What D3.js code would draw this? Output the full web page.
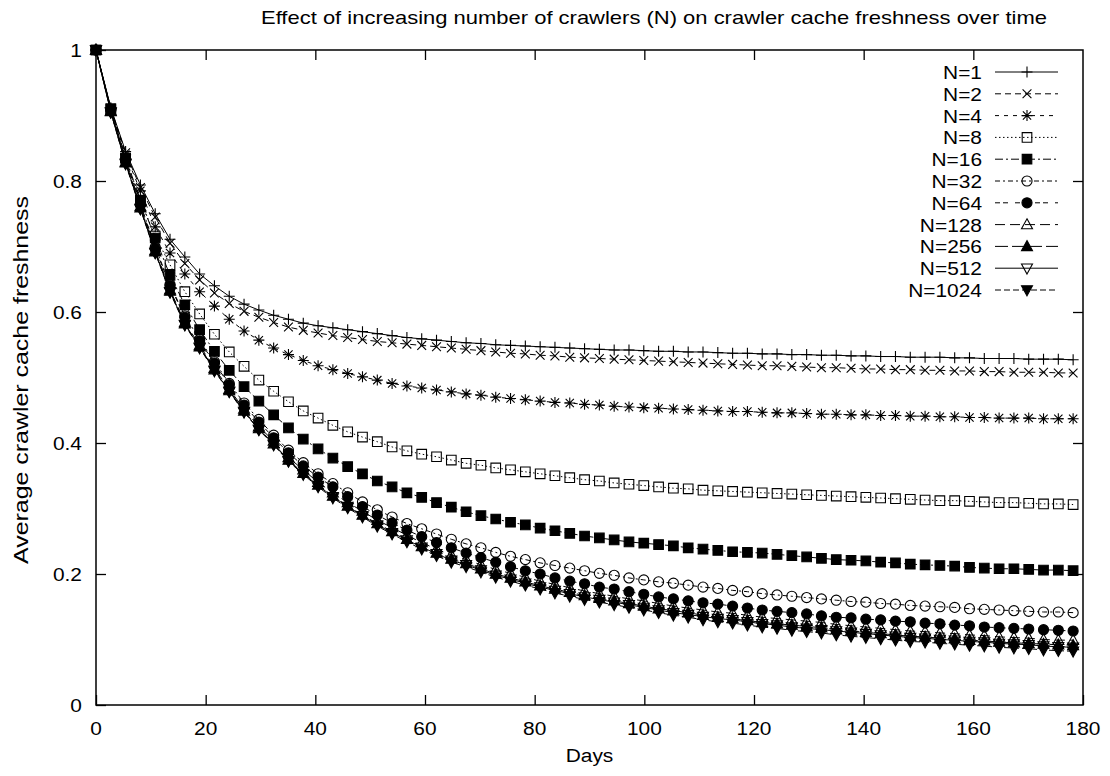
<!DOCTYPE html>
<html>
<head>
<meta charset="utf-8">
<script src="https://cdn.jsdelivr.net/npm/d3@7"></script>
<style>
  body { margin: 0; background: #fff; }
  text { font-family: "Liberation Sans", Arial, Helvetica, sans-serif; fill: #000; }
</style>
</head>
<body>
<div id="chart"></div>
<script>
// sample days (one point every 2.7 days)
const days = [
  0, 2.7, 5.4, 8.1, 10.8, 13.5, 16.2, 18.9, 21.6, 24.3,
  27, 29.7, 32.4, 35.1, 37.8, 40.5, 43.2, 45.9, 48.6, 51.3,
  54, 56.7, 59.4, 62.1, 64.8, 67.5, 70.2, 72.9, 75.6, 78.3,
  81, 83.7, 86.4, 89.1, 91.8, 94.5, 97.2, 99.9, 102.6, 105.3,
  108, 110.7, 113.4, 116.1, 118.8, 121.5, 124.2, 126.9, 129.6, 132.3,
  135, 137.7, 140.4, 143.1, 145.8, 148.5, 151.2, 153.9, 156.6, 159.3,
  162, 164.7, 167.4, 170.1, 172.8, 175.5, 178.2,
];

const seriesNames = ['N=1', 'N=2', 'N=4', 'N=8', 'N=16', 'N=32', 'N=64', 'N=128', 'N=256', 'N=512', 'N=1024'];

const n1 = [
  1.000, 0.912, 0.845, 0.794, 0.750, 0.711, 0.684, 0.658, 0.640, 0.624,
  0.612, 0.603, 0.595, 0.589, 0.583, 0.579, 0.576, 0.573, 0.570, 0.567,
  0.564, 0.561, 0.559, 0.557, 0.555, 0.553, 0.552, 0.550, 0.549, 0.548,
  0.547, 0.546, 0.545, 0.544, 0.543, 0.542, 0.542, 0.541, 0.540, 0.540,
  0.539, 0.539, 0.538, 0.537, 0.537, 0.536, 0.536, 0.535, 0.535, 0.534,
  0.534, 0.533, 0.533, 0.532, 0.532, 0.531, 0.531, 0.531, 0.530, 0.530,
  0.529, 0.529, 0.529, 0.528, 0.528, 0.528, 0.527,
];
const n2 = [
  1.000, 0.911, 0.843, 0.790, 0.745, 0.705, 0.674, 0.649, 0.629, 0.613,
  0.601, 0.592, 0.584, 0.577, 0.572, 0.568, 0.564, 0.561, 0.558, 0.555,
  0.553, 0.551, 0.549, 0.547, 0.545, 0.543, 0.541, 0.539, 0.537, 0.536,
  0.534, 0.533, 0.531, 0.530, 0.529, 0.528, 0.527, 0.526, 0.525, 0.524,
  0.523, 0.522, 0.521, 0.520, 0.519, 0.518, 0.518, 0.517, 0.516, 0.515,
  0.515, 0.514, 0.513, 0.513, 0.512, 0.512, 0.511, 0.511, 0.510, 0.510,
  0.509, 0.509, 0.508, 0.508, 0.508, 0.507, 0.507,
];
const n4 = [
  1.000, 0.910, 0.840, 0.785, 0.730, 0.690, 0.658, 0.631, 0.609, 0.589,
  0.571, 0.557, 0.545, 0.535, 0.526, 0.518, 0.512, 0.506, 0.501, 0.496,
  0.491, 0.487, 0.484, 0.481, 0.478, 0.475, 0.473, 0.470, 0.468, 0.466,
  0.464, 0.462, 0.461, 0.459, 0.458, 0.456, 0.455, 0.454, 0.453, 0.452,
  0.451, 0.450, 0.449, 0.448, 0.448, 0.447, 0.446, 0.446, 0.445, 0.444,
  0.444, 0.443, 0.443, 0.442, 0.442, 0.441, 0.441, 0.440, 0.440, 0.439,
  0.439, 0.438, 0.438, 0.438, 0.437, 0.437, 0.437,
];
const n8 = [
  1.000, 0.910, 0.835, 0.770, 0.716, 0.672, 0.631, 0.597, 0.566, 0.539,
  0.517, 0.496, 0.479, 0.463, 0.449, 0.438, 0.427, 0.417, 0.409, 0.402,
  0.394, 0.388, 0.383, 0.379, 0.374, 0.369, 0.366, 0.362, 0.359, 0.356,
  0.353, 0.350, 0.347, 0.344, 0.342, 0.339, 0.337, 0.335, 0.333, 0.331,
  0.330, 0.328, 0.327, 0.326, 0.325, 0.324, 0.323, 0.322, 0.321, 0.320,
  0.319, 0.318, 0.317, 0.316, 0.315, 0.314, 0.313, 0.312, 0.312, 0.311,
  0.310, 0.309, 0.309, 0.308, 0.307, 0.307, 0.306,
];
const n16 = [
  1.000, 0.910, 0.835, 0.771, 0.713, 0.656, 0.611, 0.573, 0.540, 0.511,
  0.486, 0.464, 0.443, 0.423, 0.406, 0.391, 0.377, 0.364, 0.353, 0.342,
  0.333, 0.324, 0.317, 0.309, 0.302, 0.295, 0.289, 0.284, 0.279, 0.275,
  0.270, 0.266, 0.262, 0.258, 0.255, 0.252, 0.249, 0.247, 0.245, 0.243,
  0.240, 0.238, 0.236, 0.234, 0.233, 0.232, 0.230, 0.228, 0.226, 0.224,
  0.222, 0.221, 0.220, 0.218, 0.217, 0.215, 0.214, 0.213, 0.212, 0.210,
  0.209, 0.208, 0.208, 0.207, 0.206, 0.206, 0.205,
];
const n32 = [
  1.000, 0.909, 0.833, 0.765, 0.699, 0.642, 0.594, 0.558, 0.524, 0.491,
  0.461, 0.436, 0.412, 0.389, 0.370, 0.353, 0.338, 0.324, 0.310, 0.298,
  0.287, 0.277, 0.269, 0.261, 0.253, 0.246, 0.240, 0.233, 0.227, 0.222,
  0.217, 0.213, 0.209, 0.205, 0.201, 0.198, 0.194, 0.191, 0.188, 0.186,
  0.183, 0.180, 0.178, 0.175, 0.173, 0.170, 0.168, 0.166, 0.164, 0.162,
  0.160, 0.158, 0.157, 0.155, 0.154, 0.152, 0.151, 0.150, 0.149, 0.147,
  0.146, 0.145, 0.144, 0.143, 0.142, 0.142, 0.141,
];
const n64 = [
  1.000, 0.908, 0.832, 0.764, 0.697, 0.640, 0.592, 0.556, 0.522, 0.489,
  0.458, 0.432, 0.408, 0.385, 0.365, 0.348, 0.333, 0.318, 0.303, 0.290,
  0.278, 0.267, 0.257, 0.248, 0.240, 0.232, 0.225, 0.218, 0.211, 0.205,
  0.200, 0.194, 0.189, 0.185, 0.180, 0.177, 0.173, 0.169, 0.165, 0.162,
  0.159, 0.156, 0.154, 0.151, 0.148, 0.145, 0.143, 0.141, 0.139, 0.136,
  0.134, 0.133, 0.131, 0.130, 0.128, 0.127, 0.125, 0.124, 0.122, 0.121,
  0.119, 0.118, 0.117, 0.116, 0.115, 0.114, 0.113,
];
const n128 = [
  1.000, 0.907, 0.829, 0.761, 0.694, 0.634, 0.584, 0.549, 0.514, 0.482,
  0.452, 0.425, 0.403, 0.378, 0.359, 0.340, 0.324, 0.309, 0.296, 0.282,
  0.271, 0.259, 0.248, 0.238, 0.229, 0.222, 0.214, 0.207, 0.201, 0.195,
  0.189, 0.184, 0.179, 0.174, 0.170, 0.166, 0.162, 0.159, 0.155, 0.151,
  0.148, 0.145, 0.142, 0.140, 0.137, 0.134, 0.132, 0.130, 0.128, 0.126,
  0.123, 0.121, 0.119, 0.117, 0.115, 0.113, 0.112, 0.110, 0.109, 0.107,
  0.106, 0.104, 0.103, 0.102, 0.100, 0.099, 0.099,
];
const n256 = [
  1.000, 0.906, 0.828, 0.759, 0.692, 0.632, 0.582, 0.547, 0.512, 0.480,
  0.449, 0.422, 0.399, 0.374, 0.354, 0.336, 0.319, 0.304, 0.290, 0.277,
  0.265, 0.253, 0.242, 0.232, 0.223, 0.216, 0.208, 0.200, 0.194, 0.188,
  0.182, 0.177, 0.172, 0.167, 0.163, 0.159, 0.155, 0.151, 0.147, 0.144,
  0.141, 0.137, 0.134, 0.132, 0.129, 0.126, 0.124, 0.122, 0.120, 0.118,
  0.115, 0.113, 0.111, 0.109, 0.107, 0.105, 0.104, 0.102, 0.101, 0.099,
  0.098, 0.096, 0.095, 0.094, 0.093, 0.092, 0.091,
];
const n512 = [
  1.000, 0.905, 0.827, 0.758, 0.691, 0.631, 0.581, 0.546, 0.511, 0.479,
  0.448, 0.421, 0.398, 0.373, 0.353, 0.335, 0.318, 0.303, 0.289, 0.275,
  0.263, 0.252, 0.241, 0.231, 0.221, 0.214, 0.206, 0.198, 0.192, 0.186,
  0.180, 0.175, 0.170, 0.165, 0.161, 0.157, 0.153, 0.149, 0.145, 0.141,
  0.138, 0.135, 0.132, 0.130, 0.127, 0.124, 0.122, 0.119, 0.117, 0.115,
  0.113, 0.111, 0.109, 0.107, 0.105, 0.103, 0.102, 0.100, 0.099, 0.097,
  0.096, 0.094, 0.093, 0.092, 0.090, 0.089, 0.088,
];
const n1024 = [
  1.000, 0.905, 0.826, 0.757, 0.690, 0.630, 0.580, 0.545, 0.510, 0.478,
  0.447, 0.420, 0.397, 0.372, 0.352, 0.333, 0.316, 0.301, 0.287, 0.273,
  0.261, 0.249, 0.238, 0.228, 0.218, 0.211, 0.203, 0.195, 0.189, 0.183,
  0.177, 0.171, 0.166, 0.161, 0.157, 0.153, 0.149, 0.145, 0.141, 0.137,
  0.134, 0.130, 0.127, 0.125, 0.122, 0.119, 0.117, 0.114, 0.112, 0.110,
  0.107, 0.105, 0.103, 0.101, 0.099, 0.097, 0.096, 0.094, 0.093, 0.091,
  0.090, 0.088, 0.087, 0.086, 0.084, 0.083, 0.082,
];

const seriesValues = [n1, n2, n4, n8, n16, n32, n64, n128, n256, n512, n1024];
const xTicks = [0, 20, 40, 60, 80, 100, 120, 140, 160, 180];
const yTicks = [0, 0.2, 0.4, 0.6, 0.8, 1];

// gnuplot-like point types and dash patterns, one per series
const pointTypes = ['plus', 'cross', 'star', 'square', 'squareFill', 'circle', 'circleFill',
  'triUp', 'triUpFill', 'triDown', 'triDownFill'];
const dashes = ['none', '6,4', '4,5', '1.5,2.5', '8,3,2,3', '5,3,2,3', '5,3,5,7', '10,5', '13,4', 'none', '6,3'];

const width = 1110;
const height = 776;
const plot = { left: 96, right: 1083, top: 50, bottom: 705 };

const svg = d3.select('#chart')
  .append('svg')
  .attr('width', width)
  .attr('height', height);

const x = d3.scaleLinear().domain([0, 180]).range([plot.left, plot.right]);
const y = d3.scaleLinear().domain([0, 1]).range([plot.bottom, plot.top]);

const fontSize = 19;
const stretch = 1.1; // reference glyphs are a little wider than tall

const addText = (g, str, px, py, anchor, rotate) => {
  const t = g.append('text')
    .attr('transform', `translate(${px},${py})${rotate ? ` rotate(${rotate})` : ''} scale(${stretch},1)`)
    .attr('text-anchor', anchor)
    .attr('font-size', fontSize)
    .text(str);
  return t;
};

// axes with inward ticks, mirrored on top and right
const tickLen = 10;
const axisB = d3.axisBottom(x).tickValues(xTicks).tickSizeInner(-tickLen).tickSizeOuter(0).tickFormat('');
const axisT = d3.axisTop(x).tickValues(xTicks.slice(1, -1)).tickSizeInner(-tickLen).tickSizeOuter(0).tickFormat('');
const axisL = d3.axisLeft(y).tickValues(yTicks).tickSizeInner(-tickLen).tickSizeOuter(0).tickFormat('');
const axisR = d3.axisRight(y).tickValues(yTicks.slice(1, -1)).tickSizeInner(-tickLen).tickSizeOuter(0).tickFormat('');

const axes = svg.append('g').attr('class', 'axes');
axes.append('g').attr('transform', `translate(0,${plot.bottom})`).call(axisB);
axes.append('g').attr('transform', `translate(0,${plot.top})`).call(axisT);
axes.append('g').attr('transform', `translate(${plot.left},0)`).call(axisL);
axes.append('g').attr('transform', `translate(${plot.right},0)`).call(axisR);
axes.selectAll('.domain').remove();
axes.selectAll('line').attr('stroke', '#000').attr('stroke-width', 1.3);

axes.append('rect')
  .attr('x', plot.left)
  .attr('y', plot.top)
  .attr('width', plot.right - plot.left)
  .attr('height', plot.bottom - plot.top)
  .attr('fill', 'none')
  .attr('stroke', '#000')
  .attr('stroke-width', 1.5);

const labels = svg.append('g');
xTicks.forEach((t) => addText(labels, d3.format('d')(t), x(t), plot.bottom + 30, 'middle'));
yTicks.forEach((t) => addText(labels, t === 0 || t === 1 ? String(t) : d3.format('.1f')(t), plot.left - 14, y(t) + 7, 'end'));

// title and y label are set to the lengths measured on the reference
labels.append('text')
  .attr('x', 654)
  .attr('y', 24)
  .attr('text-anchor', 'middle')
  .attr('font-size', 19)
  .attr('textLength', 786)
  .attr('lengthAdjust', 'spacingAndGlyphs')
  .text('Effect of increasing number of crawlers (N) on crawler cache freshness over time');
addText(labels, 'Days', x(90), 762, 'middle');
labels.append('text')
  .attr('transform', 'translate(28,380) rotate(-90)')
  .attr('text-anchor', 'middle')
  .attr('font-size', 20)
  .attr('textLength', 368)
  .attr('lengthAdjust', 'spacingAndGlyphs')
  .text('Average crawler cache freshness');

// marker shapes
const markerPath = (type) => {
  const s = 5.5;
  switch (type) {
    case 'plus': return `M${-s},0H${s}M0,${-s}V${s}`;
    case 'cross': return `M${-s * 0.8},${-s * 0.8}L${s * 0.8},${s * 0.8}M${-s * 0.8},${s * 0.8}L${s * 0.8},${-s * 0.8}`;
    case 'star': return `M${-s},0H${s}M0,${-s}V${s}M${-s * 0.75},${-s * 0.75}L${s * 0.75},${s * 0.75}M${-s * 0.75},${s * 0.75}L${s * 0.75},${-s * 0.75}`;
    case 'square':
    case 'squareFill': return 'M-4.8,-4.8H4.8V4.8H-4.8Z';
    case 'circle':
    case 'circleFill': return d3.symbol(d3.symbolCircle, 80)();
    case 'triUp':
    case 'triUpFill': return 'M0,-5.8L5.5,4.2H-5.5Z';
    default: return 'M0,5.8L5.5,-4.2H-5.5Z';
  }
};

const isFilled = (type) => type.endsWith('Fill');

const drawMarker = (g, type) => g.append('path')
  .attr('d', markerPath(type))
  .attr('fill', isFilled(type) ? '#000' : 'none')
  .attr('stroke', '#000')
  .attr('stroke-width', 1.1);

const line = d3.line()
  .x((d) => x(d[0]))
  .y((d) => y(d[1]));

const series = seriesNames.map((name, k) => ({
  name,
  points: days.map((d, i) => [d, seriesValues[k][i]]),
  type: pointTypes[k],
  dash: dashes[k],
}));

const plotG = svg.append('g');
series.forEach((s) => {
  const g = plotG.append('g');
  g.append('path')
    .attr('d', line(s.points))
    .attr('fill', 'none')
    .attr('stroke', '#000')
    .attr('stroke-width', 1)
    .attr('stroke-dasharray', s.dash);
  g.selectAll('g.pt')
    .data(s.points)
    .enter()
    .append('g')
    .attr('class', 'pt')
    .attr('transform', (d) => `translate(${x(d[0])},${y(d[1])})`)
    .each(function () { drawMarker(d3.select(this), s.type); });
});

// key, top right inside the plot
const key = svg.append('g');
const keyTop = 72;
const keyStep = 21.8;
series.forEach((s, k) => {
  const ky = keyTop + k * keyStep;
  addText(key, s.name, 982, ky + 7, 'end');
  key.append('line')
    .attr('x1', 995)
    .attr('x2', 1058)
    .attr('y1', ky)
    .attr('y2', ky)
    .attr('stroke', '#000')
    .attr('stroke-width', 1)
    .attr('stroke-dasharray', s.dash);
  drawMarker(key.append('g').attr('transform', `translate(1027,${ky})`), s.type);
});
</script>
</body>
</html>
